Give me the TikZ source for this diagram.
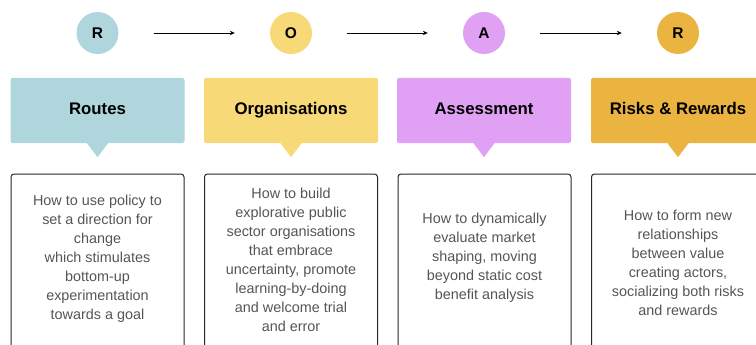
\documentclass[tikz,border=0pt]{standalone}
\usepackage{fontspec}
\setmainfont{Liberation Sans}
\usetikzlibrary{arrows.meta}
\definecolor{cR}{HTML}{AED6DC}
\definecolor{cO}{HTML}{F7D978}
\definecolor{cA}{HTML}{E0A1F5}
\definecolor{cK}{HTML}{EBB33F}
\definecolor{txt}{HTML}{555555}
\tikzset{
  letter/.style={circle, minimum size=42pt, inner sep=0pt, text height=11pt, text depth=0pt, font=\bfseries\fontsize{15.5}{17}\selectfont},
  header/.style={rectangle, rounded corners=2pt, minimum width=174pt, minimum height=65pt, inner sep=0pt, text height=12.5pt, text depth=3.5pt, font=\bfseries\fontsize{16.8}{19}\selectfont},
  descbox/.style={draw=black!85, line width=1pt, rounded corners=3pt, minimum width=173pt, minimum height=186pt, inner sep=0pt},
  desc/.style={align=center, text=txt, font=\fontsize{14.4}{19}\selectfont, inner sep=0pt},
  flow/.style={line width=0.9pt, -{Stealth[length=5pt,width=4.5pt]}, shorten <=35pt, shorten >=35pt},
}
\begin{document}
\begin{tikzpicture}[x=1pt,y=-1pt]
\useasboundingbox (0,0) rectangle (756,345);
% circles
\node[letter, fill=cR] (c1) at (97.5,33) {R};
\node[letter, fill=cO] (c2) at (291,33) {O};
\node[letter, fill=cA] (c3) at (484,33) {A};
\node[letter, fill=cK] (c4) at (678,33) {R};
\draw[flow] (c1) -- (c2);
\draw[flow] (c2) -- (c3);
\draw[flow] (c3) -- (c4);
% headers
\foreach \n/\x/\c/\t in {h1/97.5/cR/Routes, h2/291/cO/Organisations, h3/484/cA/Assessment, h4/678/cK/Risks \& Rewards}{
  \node[header, fill=\c] (\n) at (\x,110.5) {\t};
  \fill[\c] ([xshift=-10.5pt]\n.south) -- ([xshift=10.5pt]\n.south) -- ([yshift=-14pt]\n.south) -- cycle;
}
% description boxes
\node[descbox] (b1) at (97.5,267) {};
\node[descbox] (b2) at (291,267) {};
\node[descbox] (b3) at (484.5,267) {};
\node[descbox] (b4) at (678,267) {};
\node[desc] (t1) at (97.5,259) {How to use policy to\\set a direction for\\change\\which stimulates\\bottom-up\\experimentation\\towards a goal};
\node[desc] (t2) at (291,260) {How to build\\explorative public\\sector organisations\\that embrace\\uncertainty, promote\\learning-by-doing\\and welcome trial\\and error};
\node[desc] (t3) at (484.5,258) {How to dynamically\\evaluate market\\shaping, moving\\beyond static cost\\benefit analysis};
\node[desc] (t4) at (678,262.5) {How to form new\\relationships\\between value\\creating actors,\\socializing both risks\\and rewards};
\end{tikzpicture}
\end{document}
